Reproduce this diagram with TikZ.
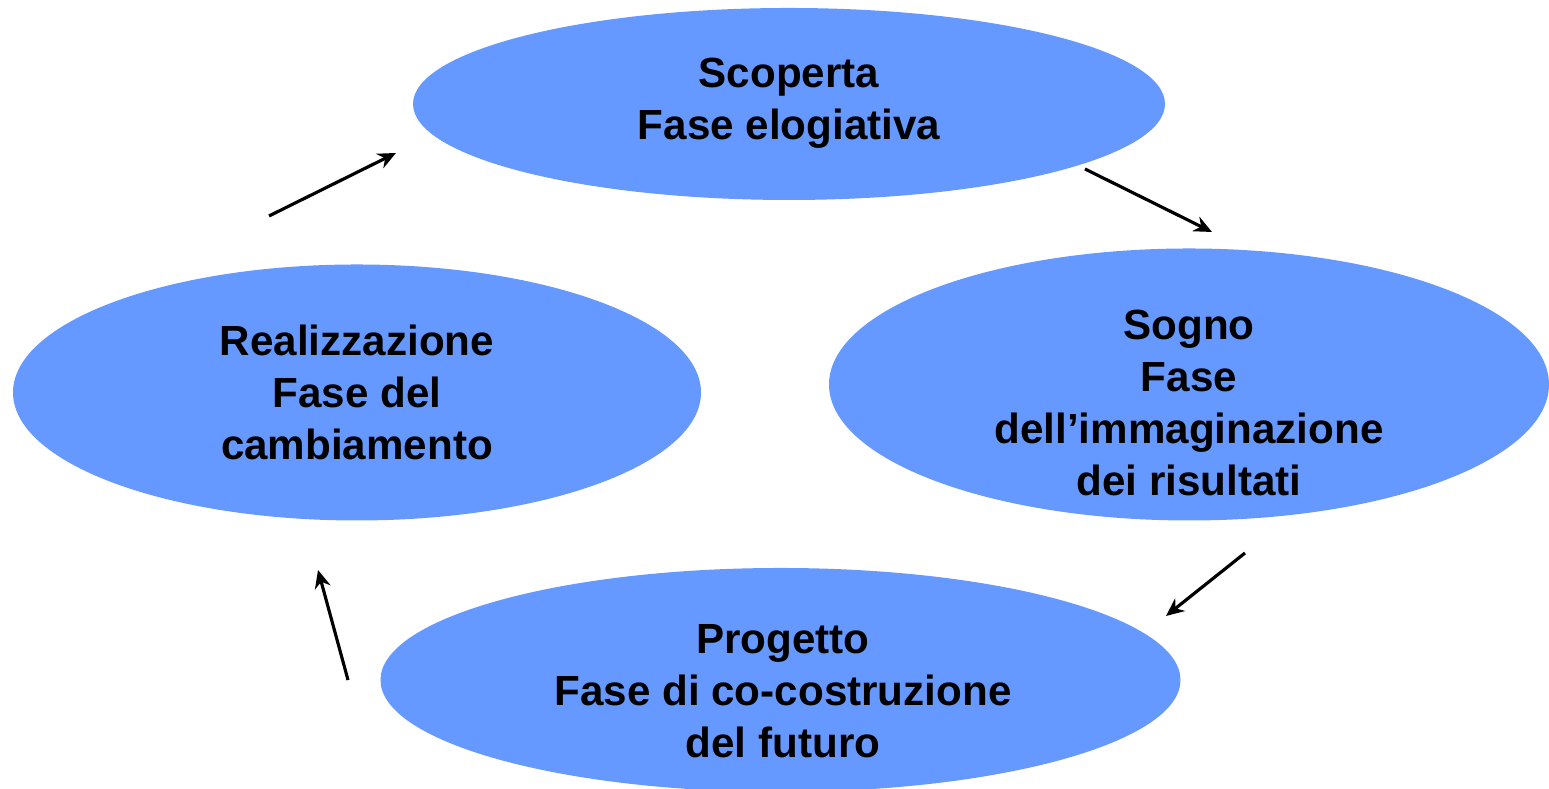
\documentclass[tikz,border=0pt]{standalone}
\usepackage{fontspec}
\setmainfont{Liberation Sans}
\definecolor{PhaseBlue}{HTML}{6699FF}
\usetikzlibrary{shapes.geometric, arrows.meta}
\tikzset{
  % Ellipse styles
  phasebox/.style={ellipse, draw=none, fill=PhaseBlue, inner sep=0pt},
  phasetext/.style={font=\fontsize{12}{14.8}\selectfont\bfseries, align=center, text=black, inner sep=0pt},
  % Arrow styles
  arrow/.style={-{Stealth[length=1.8mm, width=1.6mm]}, line width=0.9pt, black}
}
\begin{document}
\begin{tikzpicture}
  \useasboundingbox (0,0) rectangle (15.49,7.89);

  % Scoperta
  \node[phasebox, minimum width=7.52cm, minimum height=1.92cm] (scoperta) at (7.89,6.85) {};
  \node[phasetext] (scopertatext) at (7.89,6.86) {Scoperta\\Fase elogiativa};

  % Sogno
  \node[phasebox, minimum width=7.2cm, minimum height=2.72cm] (sogno) at (11.89,4.045) {};
  \node[phasetext] (sognotext) at (11.89,3.86) {Sogno\\Fase\\dell’immaginazione\\dei risultati};

  % Progetto
  \node[phasebox, minimum width=8cm, minimum height=2.24cm] (progetto) at (7.805,1.09) {};
  \node[phasetext] (progettotext) at (7.83,0.98) {Progetto\\Fase di co-costruzione\\del futuro};

  % Realizzazione
  \node[phasebox, minimum width=6.88cm, minimum height=2.56cm] (realizzazione) at (3.57,3.965) {};
  \node[phasetext] (realizzazionetext) at (3.57,3.97) {Realizzazione\\Fase del\\cambiamento};

  % Arrow ends
  \coordinate (fromR) at (2.69,5.73);
  \coordinate (toS) at (3.96,6.36);
  \coordinate (fromS) at (10.85,6.20);
  \coordinate (toSo) at (12.12,5.57);
  \coordinate (fromSo) at (12.45,2.36);
  \coordinate (toP) at (11.66,1.73);
  \coordinate (fromP) at (3.48,1.09);
  \coordinate (toR) at (3.18,2.19);

  % Arrows
  \draw[arrow] (fromR) -- (toS);
  \draw[arrow] (fromS) -- (toSo);
  \draw[arrow] (fromSo) -- (toP);
  \draw[arrow] (fromP) -- (toR);
\end{tikzpicture}
\end{document}
